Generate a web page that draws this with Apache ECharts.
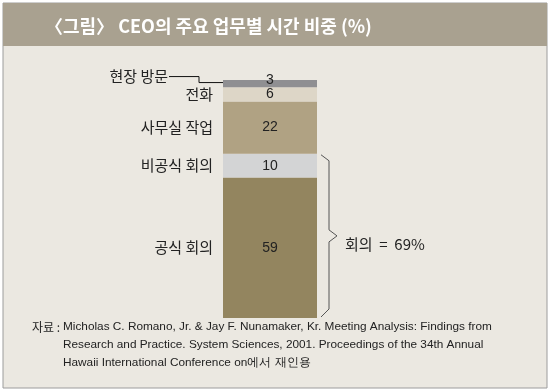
<!DOCTYPE html>
<html><head><meta charset="utf-8">
<script src="https://cdn.jsdelivr.net/npm/echarts@6/dist/echarts.min.js"></script>
<style>html,body{margin:0;padding:0;background:#fff}#c{width:550px;height:391px}</style>
</head><body><div id="c"></div>
<script>
const categories = ['현장 방문', '전화', '사무실 작업', '비공식 회의', '공식 회의'];
const values = [3, 6, 22, 10, 59];
const meetingTotal = 69;
const titleText = '〈그림〉 CEO의 주요 업무별 시간 비중 (%)';
const sourceLines = [
  'Micholas C. Romano, Jr. & Jay F. Nunamaker, Kr. Meeting Analysis: Findings from',
  'Research and Practice. System Sciences, 2001. Proceedings of the 34th Annual',
  'Hawaii International Conference on에서 재인용'
];
const segColors = ['#8f8f92', '#ddd6c7', '#b0a283', '#d3d4d5', '#93855f'];

const FONT = '"Noto Sans CJK KR", "Noto Sans", sans-serif';
const chart = echarts.init(document.getElementById('c'));

const series = [];
for (let i = categories.length - 1; i >= 0; i--) {
  series.push({
    type: 'bar', stack: 'v', name: categories[i], barWidth: '100%',
    data: [values[i]],
    itemStyle: { color: segColors[i] },
    label: { show: true, position: 'inside', formatter: String(values[i]),
      color: '#222', fontSize: 14, fontFamily: '"Liberation Sans", Arial, sans-serif',
      offset: i === 0 ? [0, -3] : [0, 0] },
    silent: true, animation: false
  });
}
for (let i = categories.length - 1; i >= 0; i--) {
  series.push({
    type: 'bar', stack: 'n', name: 'n' + categories[i], barWidth: '100%', barGap: '-100%',
    data: [values[i]],
    itemStyle: { color: 'rgba(0,0,0,0)' },
    label: { show: true, position: 'left', distance: 10, formatter: categories[i],
      color: '#222', fontSize: 15, fontFamily: FONT,
      offset: i === 0 ? [-45, -7] : [0, 0] },
    silent: true, animation: false, z: 5
  });
}

chart.setOption({
  animation: false,
  backgroundColor: '#fff',
  grid: { left: 223, width: 94, top: 80, bottom: 73 },
  xAxis: { type: 'category', data: ['CEO'], show: false },
  yAxis: { type: 'value', min: 0, max: 100, show: false },
  title: { text: titleText, left: 40, top: 12,
    textStyle: { color: '#fff', fontSize: 18, fontWeight: 'bold', fontFamily: FONT } },
  series: series
});

const px = v => chart.convertToPixel({ xAxisIndex: 0, yAxisIndex: 0 }, ['CEO', v]);
const pBottom = px(0), meetTop = px(meetingTotal);
const barLeft = 223, barRight = 317;
const firstMid = px(100 - values[0] / 2)[1];
const yMid = (meetTop[1] + pBottom[1]) / 2;
const bx = barRight + 12, bl = barRight + 4, bt = barRight + 20;

const graphic = [
  { type: 'rect', z: -10, shape: { x: 3, y: 3, width: 544, height: 385 },
    style: { fill: '#ebe8e1', stroke: '#9c9c9c', lineWidth: 1 } },
  { type: 'rect', z: -9, shape: { x: 3, y: 3, width: 544, height: 43 },
    style: { fill: '#a9a190' } },
  { type: 'polyline', z: 10, shape: { points: [
      [barLeft - 54, firstMid - 7], [barLeft - 24, firstMid - 7],
      [barLeft - 24, firstMid - 1], [barLeft, firstMid - 1]] },
    style: { stroke: '#111', lineWidth: 1, fill: null } },
  { type: 'polyline', z: 10, shape: { points: [
      [bl, meetTop[1] + 1], [bx, meetTop[1] + 7], [bx, yMid - 6], [bt, yMid],
      [bx, yMid + 6], [bx, pBottom[1] - 9], [bl, pBottom[1] - 1]] },
    style: { stroke: '#555', lineWidth: 1, fill: null } },
  { type: 'text', z: 10, x: bt + 8, y: yMid + 8,
    style: { text: '회의  =  ' + meetingTotal + '%', fill: '#222', fontSize: 15,
      fontFamily: FONT, verticalAlign: 'middle' } },
  { type: 'text', z: 10, x: 32, y: 327,
    style: { text: '자료 :', fill: '#222', fontSize: 12, fontFamily: FONT, verticalAlign: 'middle' } }
];
sourceLines.forEach((t, k) => graphic.push({ type: 'text', z: 10, x: 63, y: 327 + k * 18,
  style: { text: t, fill: '#222', fontSize: 11.8, fontFamily: '"Liberation Sans", Arial, sans-serif',
    verticalAlign: 'middle' } }));
chart.setOption({ graphic: graphic });
</script></body></html>
